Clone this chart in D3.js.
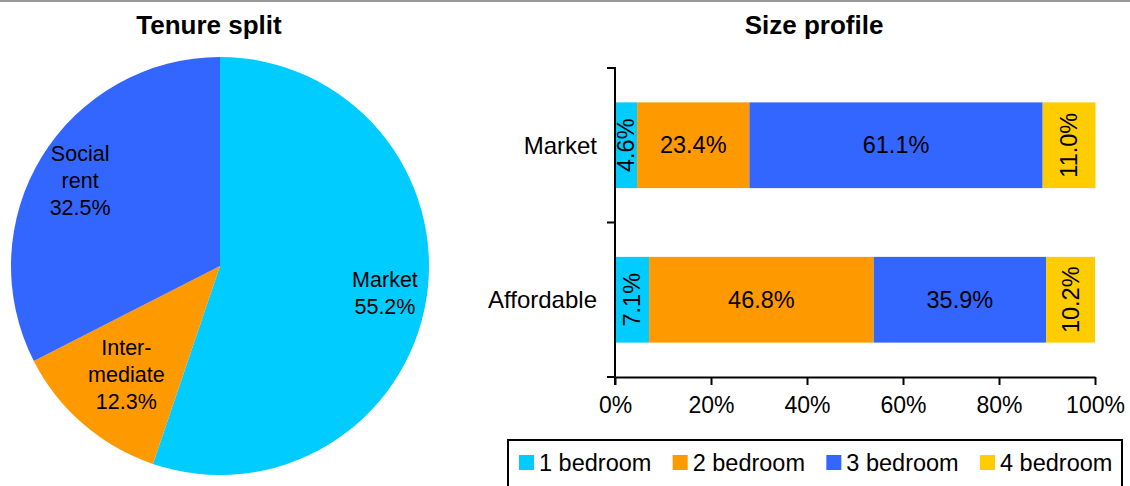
<!DOCTYPE html>
<html>
<head>
<meta charset="utf-8">
<script src="https://cdn.jsdelivr.net/npm/d3@7"></script>
<style>
  html, body { margin: 0; padding: 0; background: #fff; }
  svg { display: block; font-family: "Liberation Sans", Arial, sans-serif; }
</style>
</head>
<body>
<svg id="chart" width="1130" height="486"></svg>
<script>
// Tenure split (pie)
const tenureNames = ["Market", "Intermediate", "Social rent"];
const tenureLabelLines = [["Market"], ["Inter-", "mediate"], ["Social", "rent"]];
const tenureShares = [55.2, 12.3, 32.5];

// Size profile (stacked bars)
const sizeCategories = ["Market", "Affordable"];
const bedroomSeries = ["1 bedroom", "2 bedroom", "3 bedroom", "4 bedroom"];
const marketSizes = [4.6, 23.4, 61.1, 11.0];
const affordableSizes = [7.1, 46.8, 35.9, 10.2];
const xTickValues = [0, 20, 40, 60, 80, 100];

const colors = ["#00CCFF", "#FF9900", "#3366FF", "#FFCC00"];
const tenureColors = ["#00CCFF", "#FF9900", "#3366FF"];

const svg = d3.select("#chart");

// thin frame line along the top
svg.append("line")
  .attr("x1", 0).attr("x2", 1130).attr("y1", 1).attr("y2", 1)
  .attr("stroke", "#999").attr("stroke-width", 2);

// ---------- Pie ----------
const pieCx = 220, pieCy = 266, pieR = 209;
// label distance from centre, as a fraction of the radius, per slice
const labelRadiusFrac = [0.80, 0.685, 0.785];

svg.append("text")
  .attr("x", 209).attr("y", 34)
  .attr("text-anchor", "middle")
  .attr("font-size", 26).attr("font-weight", "bold")
  .text("Tenure split");

const pieGen = d3.pie().sort(null).value(d => d)(tenureShares);
const arcGen = d3.arc().innerRadius(0).outerRadius(pieR);
const pieG = svg.append("g").attr("transform", `translate(${pieCx},${pieCy})`);

pieG.selectAll("path.slice")
  .data(pieGen)
  .join("path")
  .attr("class", "slice")
  .attr("d", arcGen)
  .attr("fill", (d, i) => tenureColors[i]);

pieG.selectAll("g.plabel")
  .data(pieGen)
  .join("g")
  .attr("class", "plabel")
  .each(function (d, i) {
    const rr = pieR * labelRadiusFrac[i];
    const c = d3.arc().innerRadius(rr).outerRadius(rr).centroid(d);
    const lines = tenureLabelLines[i].concat([d3.format(".1f")(tenureShares[i]) + "%"]);
    const lh = 27;
    const t = d3.select(this).append("text")
      .attr("text-anchor", "middle")
      .attr("font-size", 21.5)
      .attr("fill", "#000");
    lines.forEach((ln, k) => {
      t.append("tspan")
        .attr("x", c[0])
        .attr("y", c[1] + (k - (lines.length - 1) / 2) * lh + 7.5)
        .text(ln);
    });
  });

// ---------- Stacked bars ----------
const x0 = 615, x1 = 1095, yTop = 68, yBot = 377;

svg.append("text")
  .attr("x", 814).attr("y", 34)
  .attr("text-anchor", "middle")
  .attr("font-size", 26).attr("font-weight", "bold")
  .text("Size profile");

const x = d3.scaleLinear().domain([0, 100]).range([x0, x1]);
const y = d3.scaleBand().domain(sizeCategories).range([yTop, yBot]).paddingInner(0.445).paddingOuter(0.2225);
const yAxisBands = d3.scaleBand().domain(sizeCategories).range([yTop, yBot]);

const rows = sizeCategories.map((c, i) => {
  const vals = i === 0 ? marketSizes : affordableSizes;
  const obj = { category: c };
  bedroomSeries.forEach((s, j) => obj[s] = vals[j]);
  return obj;
});
const stacked = d3.stack().keys(bedroomSeries)(rows);

const barG = svg.append("g");
stacked.forEach((layer, j) => {
  barG.selectAll(null)
    .data(layer)
    .join("rect")
    .attr("x", d => x(d[0]))
    .attr("width", d => x(d[1]) - x(d[0]))
    .attr("y", d => y(d.data.category))
    .attr("height", y.bandwidth())
    .attr("fill", colors[j]);
});

// segment value labels
stacked.forEach((layer, j) => {
  layer.forEach(d => {
    const cx = (x(d[0]) + x(d[1])) / 2;
    const cy = y(d.data.category) + y.bandwidth() / 2;
    const narrow = (x(d[1]) - x(d[0])) < 60;
    const txt = d3.format(".1f")(d.data[layer.key]) + "%";
    const t = barG.append("text")
      .attr("text-anchor", "middle")
      .attr("dominant-baseline", "central")
      .attr("font-size", 23.5)
      .attr("fill", "#000")
      .text(txt);
    if (narrow) {
      t.attr("transform", `translate(${cx},${cy}) rotate(-90)`);
    } else {
      t.attr("x", cx).attr("y", cy);
    }
  });
});

// x axis
const xAxis = svg.append("g")
  .attr("transform", `translate(0,${yBot})`)
  .call(d3.axisBottom(x).tickValues(xTickValues).tickFormat(d => d + "%").tickSize(8).tickSizeOuter(0).tickPadding(12));
xAxis.select(".domain").attr("stroke", "#000").attr("stroke-width", 2);
xAxis.selectAll(".tick line").attr("stroke", "#000").attr("stroke-width", 2);
xAxis.selectAll(".tick text").attr("font-size", 23).attr("font-family", "Liberation Sans, Arial, sans-serif").attr("fill", "#000");

// y axis: line with ticks at band boundaries
const yAxisG = svg.append("g");
yAxisG.append("line")
  .attr("x1", x0).attr("x2", x0).attr("y1", yTop).attr("y2", yBot + 8)
  .attr("stroke", "#000").attr("stroke-width", 2);
const boundaries = sizeCategories.map(c => yAxisBands(c)).concat([yBot]);
yAxisG.selectAll("line.bt")
  .data(boundaries)
  .join("line")
  .attr("class", "bt")
  .attr("x1", x0 - 8).attr("x2", x0 + 1)
  .attr("y1", d => d).attr("y2", d => d)
  .attr("stroke", "#000").attr("stroke-width", 2);
yAxisG.selectAll("text.cat")
  .data(sizeCategories)
  .join("text")
  .attr("class", "cat")
  .attr("x", x0 - 18)
  .attr("y", d => y(d) + y.bandwidth() / 2)
  .attr("text-anchor", "end")
  .attr("dominant-baseline", "central")
  .attr("font-size", 24)
  .attr("fill", "#000")
  .text(d => d);

// legend
const legG = svg.append("g");
legG.append("rect")
  .attr("x", 508).attr("y", 440).attr("width", 614).attr("height", 60)
  .attr("fill", "#fff").attr("stroke", "#000").attr("stroke-width", 2);
const legX = d3.scaleLinear().domain([0, bedroomSeries.length - 1]).range([519, 980]);
const items = legG.selectAll("g.li")
  .data(bedroomSeries)
  .join("g")
  .attr("class", "li")
  .attr("transform", (d, i) => `translate(${legX(i)},455)`);
items.append("rect").attr("width", 15).attr("height", 15).attr("fill", (d, i) => colors[i]);
items.append("text")
  .attr("x", 20).attr("y", 15.5)
  .attr("font-size", 23.5)
  .attr("fill", "#000")
  .text(d => d);
</script>
</body>
</html>
